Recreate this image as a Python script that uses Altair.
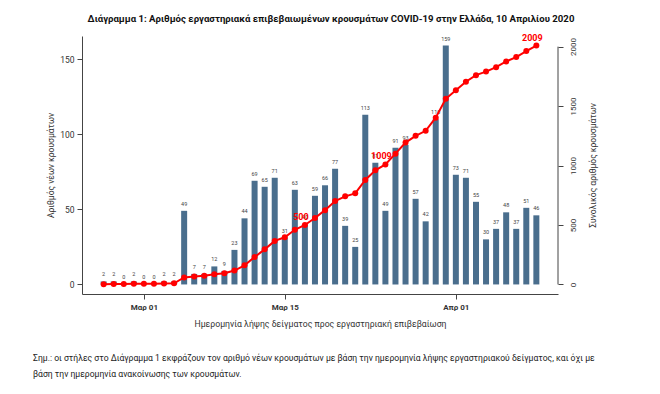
import altair as alt
import pandas as pd

# ---------------- data ----------------
dates = (["2020-02-26", "2020-02-27", "2020-02-28", "2020-02-29"]
         + [f"2020-03-{d:02d}" for d in range(1, 32)]
         + [f"2020-04-{d:02d}" for d in range(1, 10)])
new_cases = [2, 2, 0, 2, 0, 0, 2, 2, 49, 7, 7, 12, 9, 23, 44, 69, 65, 71, 31, 63, 40,
             59, 66, 77, 39, 25, 113, 81, 49, 91, 93, 57, 42, 110, 159, 73, 71, 55,
             30, 37, 48, 37, 51, 46]
cumulative = [2, 4, 4, 6, 6, 6, 8, 10, 59, 66, 73, 85, 94, 117, 161, 230, 295, 366,
              397, 460, 500, 559, 625, 702, 741, 766, 879, 960, 1009, 1100, 1193,
              1250, 1292, 1402, 1561, 1634, 1705, 1760, 1790, 1827, 1875, 1912,
              1963, 2009]
highlighted = [500, 1009, 2009]
tick_dates = ["2020-03-01", "2020-03-15", "2020-04-01"]
tick_labels = ["Μαρ 01", "Μαρ 15", "Απρ 01"]
left_ticks = [0, 50, 100, 150]
right_ticks = [0, 500, 1000, 1500, 2000]

title_text = ("Διάγραμμα 1: Αριθμός εργαστηριακά επιβεβαιωμένων κρουσμάτων "
              "COVID-19 στην Ελλάδα, 10 Απριλίου 2020")
x_title = "Ημερομηνία λήψης δείγματος προς εργαστηριακή επιβεβαίωση"
y_left_title = "Αριθμός νέων κρουσμάτων"
y_right_title = "Συνολικός αριθμός κρουσμάτων"
note_lines = [
    "Σημ.: οι στήλες στο Διάγραμμα 1 εκφράζουν τον αριθμό νέων κρουσμάτων με βάση "
    "την ημερομηνία λήψης εργαστηριακού δείγματος, και όχι με",
    "βάση την ημερομηνία ανακοίνωσης των κρουσμάτων.",
]

df = pd.DataFrame({"date": dates, "new": new_cases, "cum": cumulative})

FONT = "Roboto"
BAR = "#4a6e8d"
RED = "#ff0000"
AXIS_COLOR = "#444444"
W, H = 476, 258


def dt(s, hours=0, minutes=0):
    y, m, d = (int(v) for v in s.split("-"))
    return alt.DateTime(year=y, month=m, date=d, hours=hours, minutes=minutes, utc=True)


label_expr = "".join(
    f"utcFormat(datum.value, '%Y-%m-%d') == '{d}' ? '{l}' : "
    for d, l in zip(tick_dates, tick_labels)
) + "''"

x_enc = alt.X(
    "date:T",
    scale=alt.Scale(type="utc", domain=[dt("2020-02-24", 8, 18), dt("2020-04-10", 15, 42)]),
    axis=alt.Axis(
        values=[dt(s) for s in tick_dates],
        labelExpr=label_expr,
        title=x_title,
        grid=False,
        domainColor=AXIS_COLOR,
        tickColor=AXIS_COLOR,
        tickSize=5,
        labelFontSize=8,
        labelFontWeight="bold",
        labelColor="#333333",
        labelPadding=4,
        titleFontSize=8.7,
        titleFontWeight="normal",
        titleColor="#333333",
        titlePadding=8,
        labelFont=FONT,
        titleFont=FONT,
    ),
)

base = alt.Chart(df)

left_scale = alt.Scale(domain=[-6.36, 165.36], nice=False, zero=False)
right_scale = alt.Scale(domain=[-80.36, 2089.36], nice=False, zero=False)

left_axis = alt.Axis(
    values=left_ticks,
    title=y_left_title,
    format="d",
    grid=False,
    orient="left",
    domainColor=AXIS_COLOR,
    tickColor=AXIS_COLOR,
    tickSize=5,
    labelFontSize=8.5,
    labelColor="#333333",
    labelPadding=3,
    titleFontSize=8.5,
    titleFontWeight="normal",
    titleColor="#333333",
    titlePadding=4,
    labelFont=FONT,
    titleFont=FONT,
)

right_axis = alt.Axis(
    values=right_ticks,
    title=y_right_title,
    format="d",
    orient="right",
    grid=False,
    domain=False,
    tickColor=AXIS_COLOR,
    tickSize=5,
    labelAngle=270,
    labelAlign="center",
    labelBaseline="top",
    labelFontSize=8,
    labelColor="#333333",
    labelPadding=6,
    titleAngle=270,
    titleFontSize=8.5,
    titleFontWeight="normal",
    titleColor="#333333",
    titlePadding=20,
    labelFont=FONT,
    titleFont=FONT,
)

bars = base.mark_bar(color=BAR, size=6).encode(
    x=x_enc,
    y=alt.Y("new:Q", scale=left_scale, axis=left_axis, title=y_left_title),
    y2=alt.datum(0),
)

bar_labels = base.mark_text(
    dy=-4, baseline="bottom", fontSize=5.5, color="#444444", font=FONT
).encode(
    x="date:T",
    y=alt.Y("new:Q", scale=left_scale, axis=left_axis, title=y_left_title),
    text="new:Q",
)

left_group = alt.layer(bars, bar_labels)

line = base.mark_line(color=RED, strokeWidth=2).encode(
    x="date:T",
    y=alt.Y("cum:Q", scale=right_scale, axis=right_axis, title=y_right_title),
)

points = base.mark_circle(color=RED, opacity=1, size=36).encode(
    x="date:T",
    y=alt.Y("cum:Q", scale=right_scale, axis=right_axis, title=y_right_title),
)

annotations = base.transform_filter(
    alt.FieldOneOfPredicate(field="cum", oneOf=highlighted)
).mark_text(
    color=RED, fontWeight="bold", fontSize=9, dx=-4, dy=-8, baseline="middle", font=FONT
).encode(
    x="date:T",
    y=alt.Y("cum:Q", scale=right_scale, axis=right_axis, title=y_right_title),
    text="cum:Q",
)

right_group = alt.layer(line, points, annotations)

right_line = alt.Chart(pd.DataFrame({"lo": [right_ticks[0]], "hi": [right_ticks[-1]]})).mark_rule(
    color=AXIS_COLOR, strokeWidth=1
).encode(
    x=alt.value(W),
    y=alt.Y("lo:Q", scale=right_scale, axis=None),
    y2="hi:Q",
)

note = alt.Chart(pd.DataFrame({"a": [0]})).mark_text(
    align="left", baseline="middle", fontSize=8.6, lineHeight=16, color="#222222", font=FONT
).encode(
    x=alt.value(-49),
    y=alt.value(322),
    text=alt.value(note_lines),
)

chart = (
    alt.layer(left_group, right_group, right_line, note)
    .resolve_scale(y="independent")
    .properties(
        width=W,
        height=H,
        padding={"left": 74, "top": 28, "right": 94, "bottom": 92},
        autosize=alt.AutoSizeParams(type="none"),
        title=alt.TitleParams(
            title_text,
            fontSize=9.6,
            fontWeight="bold",
            font=FONT,
            color="#111111",
            anchor="middle",
            frame="group",
            dx=11,
            offset=10,
        ),
    )
    .configure_view(stroke=None)
)

chart.save("out.html", embed_options={"renderer": "svg", "actions": False})
